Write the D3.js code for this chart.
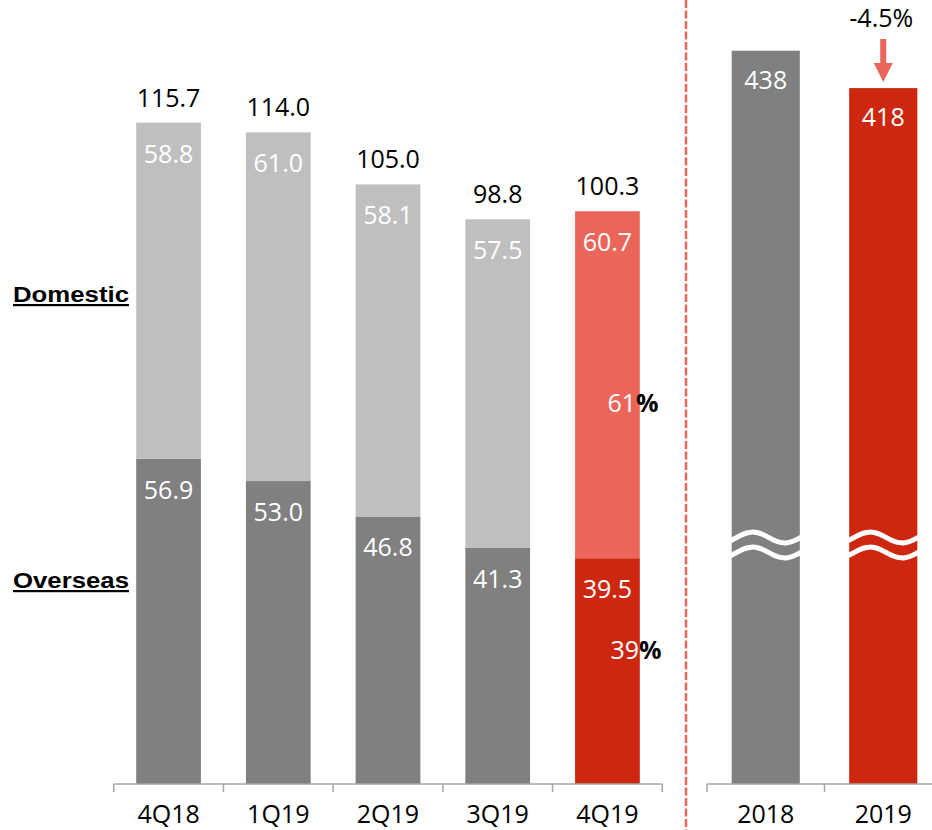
<!DOCTYPE html>
<html>
<head>
<meta charset="utf-8">
<script src="https://cdn.jsdelivr.net/npm/d3@7"></script>
<style>
  body { margin: 0; background: #fff; }
  text { font-family: "Open Sans", sans-serif; }
  text.title { font-family: "Liberation Sans", Arial, sans-serif; }
</style>
</head>
<body>
<div id="chart"></div>
<script>
// Quarterly data (left panel)
var quarters = ["4Q18", "1Q19", "2Q19", "3Q19", "4Q19"];
var overseas = [56.9, 53.0, 46.8, 41.3, 39.5];
var domestic = [58.8, 61.0, 58.1, 57.5, 60.7];
var totals = [115.7, 114.0, 105.0, 98.8, 100.3];
var shareLabels = ["61", "39"];   // 4Q19 share of domestic / overseas

// Annual data (right panel)
var years = ["2018", "2019"];
var annual = [438, 418];
var changeLabel = "-4.5%";

// Colours
var darkGrey = "#808080";
var lightGrey = "#bfbfbf";
var red = "#cd2710";
var salmon = "#eb665a";

var svgWidth = 932;
var svgHeight = 830;
var baseY = 784;

var svg = d3.select("#chart")
    .append("svg")
    .attr("width", svgWidth)
    .attr("height", svgHeight);

var fmt = d3.format(".1f");

// ---------- left panel ----------
var xLeft = d3.scaleBand()
    .domain(quarters)
    .range([113.7, 662.3])
    .paddingInner(0.41)
    .paddingOuter(0.205);

var yLeft = d3.scaleLinear()
    .domain([0, 120])
    .range([baseY, baseY - 120 * 5.716]);

var rows = quarters.map(function(q, i) {
    return {q: q, overseas: overseas[i], domestic: domestic[i], total: totals[i], last: i === quarters.length - 1};
});

var stack = d3.stack().keys(["overseas", "domestic"]);
var series = stack(rows);

var leftGroup = svg.append("g");

series.forEach(function(s) {
    leftGroup.selectAll(null)
        .data(s)
        .enter()
        .append("rect")
        .attr("x", d => xLeft(d.data.q))
        .attr("y", d => yLeft(d[1]))
        .attr("width", xLeft.bandwidth())
        .attr("height", d => yLeft(d[0]) - yLeft(d[1]))
        .attr("fill", function(d) {
            if (s.key === "overseas") return d.data.last ? red : darkGrey;
            return d.data.last ? salmon : lightGrey;
        });

    // white value labels just inside the top of each segment
    leftGroup.selectAll(null)
        .data(s)
        .enter()
        .append("text")
        .attr("x", d => xLeft(d.data.q) + xLeft.bandwidth() / 2)
        .attr("y", d => yLeft(d[1]) + 40)
        .attr("text-anchor", "middle")
        .attr("font-size", "25px")
        .attr("fill", "white")
        .text(d => fmt(d.data[s.key]));
});

// totals above the bars
leftGroup.selectAll(null)
    .data(rows)
    .enter()
    .append("text")
    .attr("x", d => xLeft(d.q) + xLeft.bandwidth() / 2)
    .attr("y", d => yLeft(d.total) - 16)
    .attr("text-anchor", "middle")
    .attr("font-size", "25px")
    .attr("fill", "black")
    .text(d => fmt(d.total));

// share labels on the 4Q19 bar
var lastQ = quarters[quarters.length - 1];
var shareX = xLeft(lastQ) + xLeft.bandwidth() / 2;
var shareY = [yLeft(65), yLeft(21.8)];
shareLabels.forEach(function(lbl, i) {
    var t = leftGroup.append("text")
        .attr("x", shareX + (i === 1 ? 3 : 0))
        .attr("y", shareY[i])
        .attr("font-size", "25px");
    t.append("tspan").attr("fill", "white").text(lbl);
    t.append("tspan").attr("fill", "black").attr("font-weight", "bold").text("%");
});

// bottom axis
var leftAxis = d3.axisBottom(xLeft).tickSize(0).tickPadding(21);
var leftAxisG = leftGroup.append("g")
    .attr("transform", `translate(0, ${baseY})`)
    .call(leftAxis);
leftAxisG.select(".domain").remove();
leftAxisG.selectAll("text")
    .attr("font-size", "25px")
    .attr("font-family", "Open Sans, sans-serif")
    .attr("fill", "black");

leftGroup.append("line")
    .attr("x1", xLeft.range()[0]).attr("x2", xLeft.range()[1])
    .attr("y1", baseY).attr("y2", baseY)
    .attr("stroke", "#a6a6a6").attr("stroke-width", 1.5);

leftGroup.selectAll(null)
    .data(d3.range(quarters.length + 1))
    .enter()
    .append("line")
    .attr("x1", i => xLeft.range()[0] + i * xLeft.step())
    .attr("x2", i => xLeft.range()[0] + i * xLeft.step())
    .attr("y1", baseY).attr("y2", baseY + 8)
    .attr("stroke", "#a6a6a6").attr("stroke-width", 1.5);

// segment titles
var titles = [["Domestic", 302], ["Overseas", 588]];
titles.forEach(function(t) {
    svg.append("text")
        .classed("title", true)
        .attr("x", 13)
        .attr("y", t[1])
        .attr("font-weight", "bold")
        .attr("font-size", "22px")
        .attr("textLength", 116)
        .attr("lengthAdjust", "spacingAndGlyphs")
        .attr("text-decoration", "underline")
        .attr("fill", "black")
        .text(t[0]);
});

// divider
svg.append("line")
    .attr("x1", 686).attr("x2", 686)
    .attr("y1", 0).attr("y2", svgHeight)
    .attr("stroke", salmon)
    .attr("stroke-width", 2.5)
    .attr("stroke-dasharray", "8,2.5");

// ---------- right panel ----------
var xRight = d3.scaleBand()
    .domain(years)
    .range([707, 942])
    .paddingInner(0.42)
    .paddingOuter(0.21);

// broken axis: compressed below the break
var yRight = d3.scaleLinear()
    .domain([0, 300, 450])
    .range([baseY, 50.7 + 138 * 1.87, 50.7 - 12 * 1.87]);

var annualRows = years.map((y, i) => ({year: y, value: annual[i], last: i === years.length - 1}));

var rightGroup = svg.append("g");

rightGroup.selectAll(null)
    .data(annualRows)
    .enter()
    .append("rect")
    .attr("x", d => xRight(d.year))
    .attr("y", d => yRight(d.value))
    .attr("width", xRight.bandwidth())
    .attr("height", d => baseY - yRight(d.value))
    .attr("fill", d => d.last ? red : darkGrey);

rightGroup.selectAll(null)
    .data(annualRows)
    .enter()
    .append("text")
    .attr("x", d => xRight(d.year) + xRight.bandwidth() / 2)
    .attr("y", d => yRight(d.value) + 38)
    .attr("text-anchor", "middle")
    .attr("font-size", "25px")
    .attr("fill", "white")
    .text(d => d.value);

// break marks
var breakY = [537.5, 552.5];
var wave = d3.line().curve(d3.curveBasis);
annualRows.forEach(function(d) {
    var x0 = xRight(d.year) - 2;
    var w = xRight.bandwidth() + 4;
    breakY.forEach(function(cy) {
        var pts = d3.range(0, 21).map(function(k) {
            var x = x0 + k * w / 20;
            var peakX = xRight(d.year) + 21;
            return [x, cy - 5.5 * Math.cos(2 * Math.PI * (x - peakX) / 64)];
        });
        rightGroup.append("path")
            .attr("d", wave(pts))
            .attr("fill", "none")
            .attr("stroke", "white")
            .attr("stroke-width", 5);
    });
});

// change arrow
var last = annualRows[annualRows.length - 1];
var ax = xRight(last.year) + xRight.bandwidth() / 2;
var tipY = yRight(last.value) - 6;
rightGroup.append("rect")
    .attr("x", ax - 3).attr("y", 39)
    .attr("width", 6).attr("height", tipY - 19 - 39 + 1)
    .attr("fill", salmon);
rightGroup.append("path")
    .attr("d", `M${ax - 9.5},${tipY - 19} L${ax + 9.5},${tipY - 19} L${ax},${tipY} Z`)
    .attr("fill", salmon);
rightGroup.append("text")
    .attr("x", ax - 2)
    .attr("y", 27)
    .attr("text-anchor", "middle")
    .attr("font-size", "25px")
    .attr("fill", "black")
    .text(changeLabel);

// right axis
var rightAxis = d3.axisBottom(xRight).tickSize(0).tickPadding(21);
var rightAxisG = rightGroup.append("g")
    .attr("transform", `translate(0, ${baseY})`)
    .call(rightAxis);
rightAxisG.select(".domain").remove();
rightAxisG.selectAll("text")
    .attr("font-size", "25px")
    .attr("font-family", "Open Sans, sans-serif")
    .attr("fill", "black");

rightGroup.append("line")
    .attr("x1", xRight.range()[0]).attr("x2", xRight.range()[1])
    .attr("y1", baseY).attr("y2", baseY)
    .attr("stroke", "#a6a6a6").attr("stroke-width", 1.5);

rightGroup.selectAll(null)
    .data(d3.range(years.length + 1))
    .enter()
    .append("line")
    .attr("x1", i => xRight.range()[0] + i * xRight.step())
    .attr("x2", i => xRight.range()[0] + i * xRight.step())
    .attr("y1", baseY).attr("y2", baseY + 8)
    .attr("stroke", "#a6a6a6").attr("stroke-width", 1.5);
</script>
</body>
</html>
